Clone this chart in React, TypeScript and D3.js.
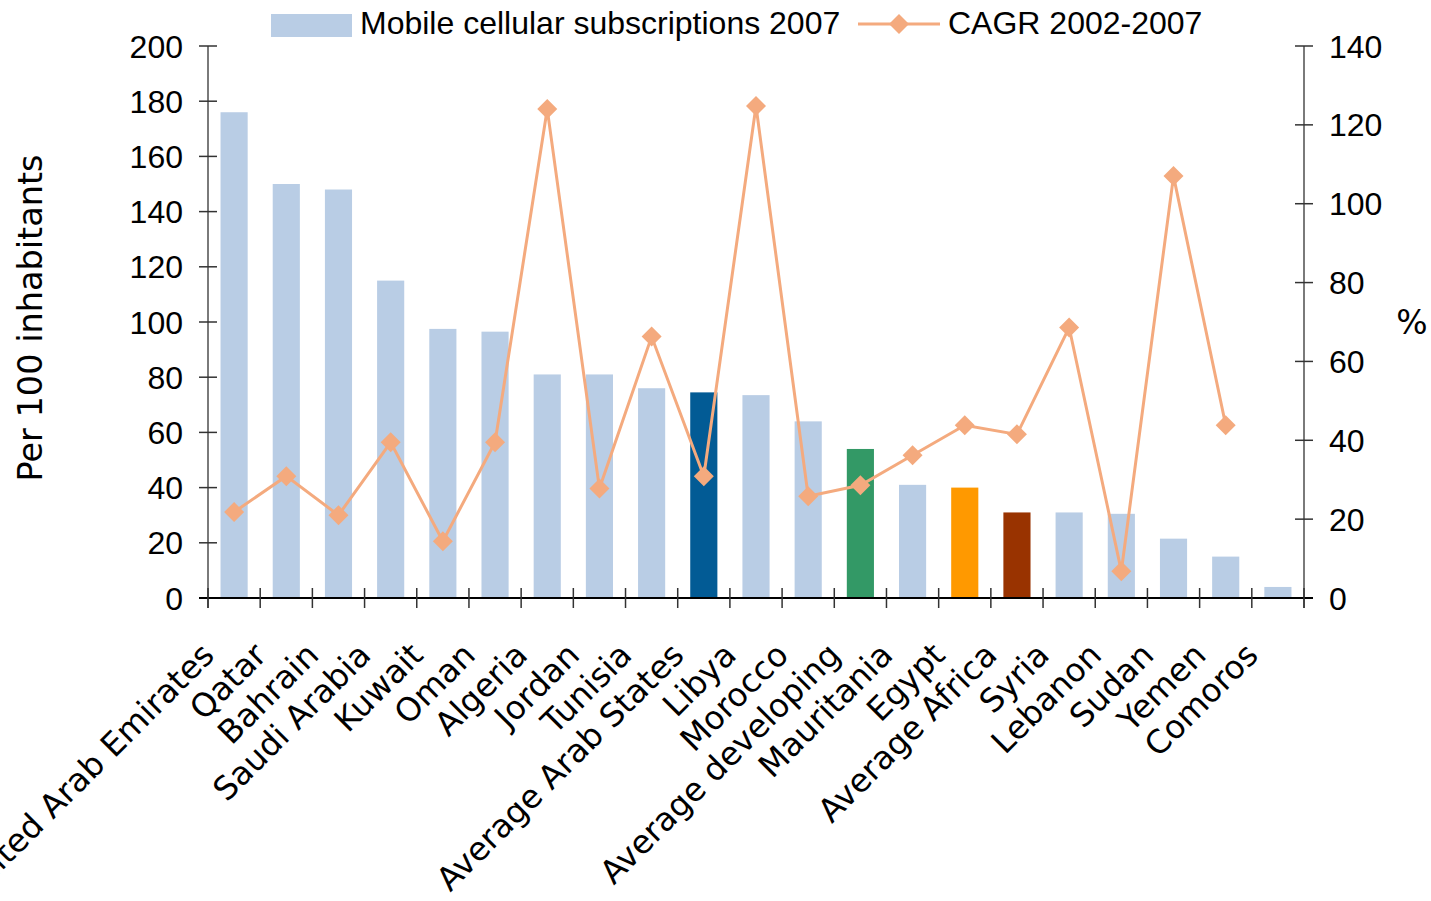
import * as d3 from "d3";

const categories = [
  "United Arab Emirates", "Qatar", "Bahrain", "Saudi Arabia", "Kuwait", "Oman",
  "Algeria", "Jordan", "Tunisia", "Average Arab States", "Libya", "Morocco",
  "Average developing", "Mauritania", "Egypt", "Average Africa", "Syria",
  "Lebanon", "Sudan", "Yemen", "Comoros",
];
const subscriptions = [
  176, 150, 148, 115, 97.5, 96.5, 81, 81, 76, 74.5, 73.5, 64,
  54, 41, 40, 31, 31, 30.5, 21.5, 15, 4,
];
const cagr: (number | null)[] = [
  21.8, 30.9, 21, 39.5, 14.4, 39.5, 124, 27.8, 66.3, 30.9, 124.8, 25.8,
  28.6, 36.2, 43.8, 41.5, 68.6, 6.8, 107, 43.8, null,
];
const leftTicks = [0, 20, 40, 60, 80, 100, 120, 140, 160, 180, 200];
const rightTicks = [0, 20, 40, 60, 80, 100, 120, 140];

// highlighted bars
const barColors: Record<string, string> = {
  "Average Arab States": "#025B95",
  "Average developing": "#339966",
  "Egypt": "#FF9900",
  "Average Africa": "#993300",
};

const W = 1431, H = 901;
const left = 208, right = 1304, top = 46, bottom = 598;
const lineColor = "#F4AA7E";
const arial = "'Liberation Sans', Arial, sans-serif";
const dejavu = "'DejaVu Sans', Verdana, sans-serif";

export default function App() {
  const x = d3.scaleBand<string>().domain(categories).range([left, right]).paddingInner(0.48).paddingOuter(0.24);
  const yL = d3.scaleLinear().domain([0, 200]).range([bottom, top]);
  const yR = d3.scaleLinear().domain([0, 140]).range([bottom, top]);
  const step = x.step();
  const cx = (c: string) => (x(c) ?? 0) + x.bandwidth() / 2;

  const pts = categories
    .map((c, i) => ({ c, v: cagr[i] }))
    .filter((d) => d.v != null) as { c: string; v: number }[];
  const line = d3.line<{ c: string; v: number }>().x((d) => cx(d.c)).y((d) => yR(d.v));
  const diamond = (px: number, py: number, r = 10) =>
    `M${px},${py - r}L${px + r},${py}L${px},${py + r}L${px - r},${py}Z`;

  return (
    <svg width={W} height={H} style={{ position: "absolute", left: 0, top: 0, background: "#fff" }}>
      {/* bars */}
      {categories.map((c, i) => (
        <rect key={c} x={x(c)} y={yL(subscriptions[i])} width={x.bandwidth()}
          height={bottom - yL(subscriptions[i])} fill={barColors[c] ?? "#B9CDE5"} />
      ))}

      {/* left axis */}
      <line x1={left} x2={left} y1={top} y2={bottom + 10} stroke="#7a7a7a" strokeWidth={2} />
      {leftTicks.map((t) => (
        <g key={"l" + t}>
          <line x1={left - 9} x2={left + 9} y1={yL(t)} y2={yL(t)} stroke="#333" strokeWidth={1.5} />
          <text x={left - 25} y={yL(t)} dy="0.36em" textAnchor="end" fontFamily={arial} fontSize={32}>{t}</text>
        </g>
      ))}

      {/* right axis */}
      <line x1={right} x2={right} y1={top} y2={bottom + 10} stroke="#7a7a7a" strokeWidth={2} />
      {rightTicks.map((t) => (
        <g key={"r" + t}>
          <line x1={right - 9} x2={right + 9} y1={yR(t)} y2={yR(t)} stroke="#333" strokeWidth={1.5} />
          <text x={right + 25} y={yR(t)} dy="0.36em" textAnchor="start" fontFamily={arial} fontSize={32}>{t}</text>
        </g>
      ))}

      {/* bottom axis */}
      <line x1={left - 9} x2={right + 9} y1={bottom} y2={bottom} stroke="#000" strokeWidth={2} />
      {d3.range(categories.length + 1).map((i) => (
        <line key={"b" + i} x1={left + i * step} x2={left + i * step} y1={bottom - 10} y2={bottom + 10}
          stroke="#333" strokeWidth={1.5} />
      ))}

      {/* category labels */}
      {categories.map((c) => (
        <text key={"c" + c} transform={`translate(${cx(c) - 18},${657}) rotate(-45)`} textAnchor="end"
          fontFamily={dejavu} fontSize={32.5}>{c}</text>
      ))}

      {/* CAGR line */}
      <path d={line(pts) ?? ""} fill="none" stroke={lineColor} strokeWidth={3} />
      {pts.map((d) => (
        <path key={"p" + d.c} d={diamond(cx(d.c), yR(d.v))} fill={lineColor} />
      ))}

      {/* axis titles */}
      <text transform={`translate(42,${(top + bottom) / 2 - 4}) rotate(-90)`} textAnchor="middle"
        fontFamily={dejavu} fontSize={33.5}>Per 100 inhabitants</text>
      <text x={1412} y={322} dy="0.36em" textAnchor="middle" fontFamily={dejavu} fontSize={33}>%</text>

      {/* legend */}
      <rect x={271} y={14} width={81} height={23} fill="#B9CDE5" />
      <text x={360} y={34} fontFamily={arial} fontSize={32}>Mobile cellular subscriptions 2007</text>
      <line x1={858} x2={940} y1={24} y2={24} stroke={lineColor} strokeWidth={3} />
      <path d={diamond(899, 24)} fill={lineColor} />
      <text x={948} y={34} fontFamily={arial} fontSize={32}>CAGR 2002-2007</text>
    </svg>
  );
}
